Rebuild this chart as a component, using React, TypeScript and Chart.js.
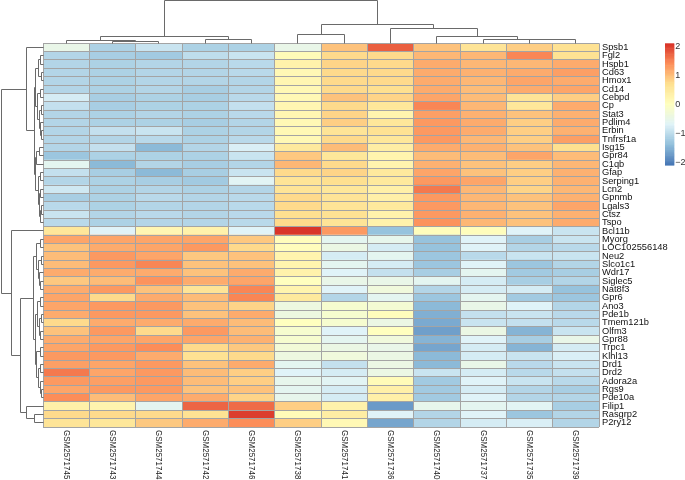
import React, { useEffect, useRef } from "react";
import { Chart, registerables } from "chart.js";

Chart.register(...registerables);

const genes = [
  "Spsb1", "Fgl2", "Hspb1", "Cd63", "Hmox1", "Cd14", "Cebpd", "Cp", "Stat3", "Pdlim4",
  "Erbin", "Tnfrsf1a", "Isg15", "Gpr84", "C1qb", "Gfap", "Serping1", "Lcn2", "Gpnmb", "Lgals3",
  "Ctsz", "Tspo", "Bcl11b", "Myorg", "LOC102556148", "Neu2", "Slco1c1", "Wdr17", "Siglec5", "Nat8f3",
  "Gpr6", "Ano3", "Pde1b", "Tmem121b", "Olfm3", "Gpr88", "Trpc1", "Klhl13", "Drd1", "Drd2",
  "Adora2a", "Rgs9", "Pde10a", "Filip1", "Rasgrp2", "P2ry12",
];

const samples = [
  "GSM2571745", "GSM2571743", "GSM2571744", "GSM2571742", "GSM2571746", "GSM2571738",
  "GSM2571741", "GSM2571736", "GSM2571740", "GSM2571737", "GSM2571735", "GSM2571739",
];

// row-scaled expression values, one array per sample (rows in gene order)
const GSM2571745 = [-0.5, -1.1, -1.1, -1.1, -1.1, -1.1, -0.8, -0.95, -1.1, -1.1, -1.1, -1.1, -1.1, -1.3, -0.6, -0.95, -1.1, -0.85, -1.2, -1.05, -0.9, -1.05, 0.55, 1.2, 0.95, 1.0, 1.0, 1.15, 0.9, 1.15, 1.2, 1.2, 1.15, 0.75, 0.95, 1.15, 1.2, 1.3, 1.25, 1.55, 1.3, 1.2, 1.4, 0.35, 0.75, 0.6];
const GSM2571743 = [-1.15, -1.2, -1.15, -1.15, -1.15, -1.15, -1.2, -1.2, -1.15, -1.15, -0.95, -1.1, -0.95, -1.15, -1.45, -1.2, -1.15, -1.15, -1.15, -1.15, -1.1, -1.15, -0.7, 1.2, 1.15, 1.3, 1.3, 1.15, 1.0, 1.3, 0.75, 1.3, 1.3, 1.15, 1.3, 1.2, 1.3, 1.3, 1.2, 1.2, 1.25, 1.3, 1.0, 0.25, 0.75, 0.55];
const GSM2571744 = [-0.9, -1.25, -1.1, -1.1, -1.1, -1.1, -1.15, -1.15, -1.1, -1.15, -0.9, -1.05, -1.45, -1.15, -1.1, -1.45, -1.2, -1.1, -1.05, -1.1, -1.05, -1.1, 0.2, 1.2, 1.2, 1.2, 1.45, 1.15, 1.35, 0.95, 1.15, 1.3, 1.3, 1.15, 0.75, 1.2, 1.4, 1.15, 1.3, 1.3, 1.3, 1.3, 1.2, -0.6, 0.75, 0.9];
const GSM2571742 = [-1.15, -1.0, -1.1, -1.1, -1.1, -1.2, -1.2, -1.15, -1.15, -1.2, -1.15, -1.15, -1.1, -1.15, -1.2, -1.2, -1.25, -1.15, -1.1, -1.1, -1.1, -1.1, 0.3, 1.2, 1.3, 0.9, 0.95, 0.95, 1.15, 0.6, 1.0, 0.95, 0.95, 1.15, 1.3, 1.2, 0.75, 0.65, 0.95, 1.0, 1.0, 0.95, 1.15, 1.7, 0.65, 1.15];
const GSM2571746 = [-1.15, -0.9, -1.05, -1.05, -1.1, -1.1, -1.05, -0.95, -1.05, -1.1, -1.1, -1.05, -0.75, -0.9, -1.1, -0.9, -0.65, -1.1, -1.05, -1.05, -1.05, -1.05, -0.7, 0.9, 0.75, 0.95, 0.95, 1.15, 1.2, 1.45, 1.45, 0.8, 1.15, 1.0, 1.0, 1.1, 0.9, 0.75, 1.15, 0.85, 0.85, 0.95, 0.8, 1.65, 2.0, 1.4];
const GSM2571738 = [-0.5, 0.1, 0.3, 0.15, 0.2, 0.15, 0.15, 0.2, 0.2, 0.15, 0.15, 0.15, 0.5, 0.9, 1.05, 0.75, 0.6, 0.6, 0.75, 0.75, 0.7, 0.75, 2.06, 0.05, 0.05, 0.25, 0.25, 0.3, 0.0, 0.25, 0.5, -0.4, -0.4, 0.0, -0.2, -0.2, -0.3, -0.4, -0.6, -0.7, -0.55, -0.6, -0.55, 0.85, 0.1, 0.85];
const GSM2571741 = [0.95, 0.75, 0.8, 0.75, 0.75, 0.75, 0.95, 0.75, 0.8, 0.85, 0.6, 0.75, 1.0, 0.55, 0.75, 0.8, 0.7, 0.55, 0.6, 0.6, 0.65, 0.6, 1.3, -0.6, -0.45, -0.8, -0.6, -0.7, -0.5, -0.7, -1.1, -0.2, -0.2, -0.2, -0.7, -0.6, -0.45, -0.35, -0.95, -0.8, -0.65, -0.8, -0.8, 0.3, 0.4, 0.15];
const GSM2571736 = [1.75, 0.75, 0.75, 0.75, 0.75, 0.7, 0.8, 0.55, 0.25, 0.55, 0.65, 0.55, 0.4, 0.25, 0.25, 0.5, 0.5, 0.35, 0.35, 0.5, 0.3, 0.3, -1.35, -0.55, -0.8, -0.6, -0.8, -0.95, -0.5, -0.35, -0.6, -0.25, 0.05, -0.45, 0.0, -0.35, -0.5, -0.45, -0.45, -0.45, 0.1, 0.35, 0.35, -1.75, -0.7, -1.65];
const GSM2571740 = [0.95, 1.05, 1.15, 1.15, 1.15, 1.15, 1.2, 1.45, 1.25, 1.3, 1.3, 1.3, 1.15, 1.0, 1.1, 1.2, 1.3, 1.55, 1.3, 1.3, 1.3, 1.35, 0.05, -1.35, -1.35, -1.3, -1.3, -1.2, -0.6, -1.1, -1.3, -1.45, -1.55, -1.6, -1.7, -1.5, -1.65, -1.45, -1.45, -0.9, -1.25, -1.25, -1.25, -0.55, -1.1, -1.1];
const GSM2571737 = [0.6, 1.05, 1.05, 1.1, 1.05, 1.0, 1.0, 1.05, 1.1, 1.15, 1.15, 1.05, 1.1, 1.0, 0.95, 0.95, 1.2, 1.05, 1.05, 1.05, 1.1, 1.05, 0.05, -0.7, -0.7, -1.05, -0.7, -0.6, -0.8, -0.8, -0.6, -0.5, -0.95, -0.9, -0.45, -0.7, -0.8, -0.8, -0.5, -0.8, -0.7, -0.8, -0.7, -0.6, -0.7, -0.8];
const GSM2571735 = [0.85, 1.45, 1.05, 1.15, 1.2, 1.15, 0.6, 0.55, 0.95, 0.85, 0.85, 0.85, 0.95, 1.2, 0.85, 0.85, 0.85, 0.8, 0.95, 0.95, 0.95, 0.95, -0.7, -1.2, -1.1, -0.9, -1.3, -1.25, -1.2, -0.8, -1.25, -0.7, -0.9, -0.95, -1.5, -1.2, -1.5, -0.9, -1.05, -1.05, -0.9, -1.1, -1.1, -0.65, -1.3, -0.75];
const GSM2571739 = [0.65, 0.65, 1.15, 1.25, 1.15, 1.2, 0.85, 1.15, 1.1, 1.15, 1.1, 1.25, 0.7, 1.0, 1.05, 1.1, 1.1, 1.05, 1.1, 1.2, 1.1, 1.15, -0.9, -0.9, -1.05, -0.9, -1.1, -1.2, -1.1, -1.35, -1.3, -1.1, -1.05, -1.05, -0.9, -0.5, -0.8, -0.75, -0.9, -0.95, -1.05, -1.2, -1.1, -1.2, -1.1, -1.1];

const sampleValues = [
  GSM2571745, GSM2571743, GSM2571744, GSM2571742, GSM2571746, GSM2571738,
  GSM2571741, GSM2571736, GSM2571740, GSM2571737, GSM2571735, GSM2571739,
];

// colour scale
const colorMin = -2.1;
const colorMax = 2.1;
const palette = ["#4575B4", "#91BFDB", "#E0F3F8", "#FFFFBF", "#FEE090", "#FC8D59", "#D73027"];
const legendTicks = [2, 1, 0, -1, -2];
const legendTickLabels = ["2", "1", "0", "\u22121", "\u22122"];

// dendrograms: [child, child, merge height]; leaves are display indices
type Tree = number | [Tree, Tree, number];

const colTree: Tree = [
  [[0, [1, 2, 2.3], 3], [3, 4, 3.7], 7.3],
  [[5, 6, 8.7], [7, [8, [9, [10, 11, 3.7], 4.3], 6.5], 14.7], 19.3],
  43,
];

const rowTopCluster: Tree = [
  0,
  [
    [
      [[1, 2, 2.5], [3, 4, 2], 4.5],
      [[5, 6, 3], [[7, 8, 2], [9, [10, 11, 1.5], 3], 4], 5.5],
      7.5,
    ],
    [
      [[12, 13, 3.5], 14, 6.5],
      [[15, 16, 2.5], [[17, 18, 3], [[19, 20, 1.5], 21, 2.5], 4], 5],
      8,
    ],
    8.5,
  ],
  16.3,
];

const rowBottomCluster: Tree = [
  22,
  [
    [
      [[23, 24, 2.5], [[25, 26, 2], [27, [28, 29, 3], 3.5], 4.5], 7],
      [
        [[30, 31, 2.5], [[32, 33, 2], [34, 35, 3], 4], 6],
        [[36, 37, 3], [[38, 39, 2.5], [40, [41, 42, 1.5], 3], 4.5], 6.5],
        8,
      ],
      9.7,
    ],
    [43, [44, 45, 8.7], 16.3],
    22.3,
  ],
  31.3,
];

const rowTree: Tree = [rowTopCluster, rowBottomCluster, 42];
const colTreeMax = 43;
const rowTreeMax = 42;

function hexToRgb(h: string) {
  return [parseInt(h.slice(1, 3), 16), parseInt(h.slice(3, 5), 16), parseInt(h.slice(5, 7), 16)];
}
const paletteRgb = palette.map(hexToRgb);

function colorFor(v: number) {
  let t = (v - colorMin) / (colorMax - colorMin);
  t = Math.max(0, Math.min(1, t));
  const seg = t * (paletteRgb.length - 1);
  const i = Math.min(Math.floor(seg), paletteRgb.length - 2);
  const f = seg - i;
  const a = paletteRgb[i];
  const b = paletteRgb[i + 1];
  const c = a.map((x, k) => Math.round(x + (b[k] - x) * f));
  return `rgb(${c[0]},${c[1]},${c[2]})`;
}

const snap = (p: number) => Math.round(p - 0.5) + 0.5;

function drawTree(
  ctx: CanvasRenderingContext2D,
  node: Tree,
  posOf: (leaf: number) => number,
  hToPix: (h: number) => number,
  vertical: boolean
): { pos: number; h: number } {
  if (typeof node === "number") return { pos: posOf(node), h: 0 };
  const a = drawTree(ctx, node[0], posOf, hToPix, vertical);
  const b = drawTree(ctx, node[1], posOf, hToPix, vertical);
  const h = node[2];
  const hp = snap(hToPix(h));
  ctx.beginPath();
  if (vertical) {
    for (const c of [a, b]) {
      const x = snap(c.pos);
      ctx.moveTo(x, snap(hToPix(c.h)));
      ctx.lineTo(x, hp);
    }
    ctx.moveTo(snap(a.pos), hp);
    ctx.lineTo(snap(b.pos), hp);
  } else {
    for (const c of [a, b]) {
      const y = snap(c.pos);
      ctx.moveTo(snap(hToPix(c.h)), y);
      ctx.lineTo(hp, y);
    }
    ctx.moveTo(hp, snap(a.pos));
    ctx.lineTo(hp, snap(b.pos));
  }
  ctx.stroke();
  return { pos: (a.pos + b.pos) / 2, h };
}

const labelFont = '"Liberation Sans", Arial, Helvetica, sans-serif';

const heatmapExtras = {
  id: "heatmapExtras",
  afterDatasetsDraw(chart: any) {
    const { ctx, chartArea, scales } = chart;
    const xs = scales.x;
    const ys = scales.y;
    ctx.save();
    ctx.strokeStyle = "#a4a4a4";
    ctx.lineWidth = 1;
    ctx.beginPath();
    for (let c = 0; c <= samples.length; c++) {
      const x = snap(xs.getPixelForValue(c));
      ctx.moveTo(x, chartArea.top);
      ctx.lineTo(x, chartArea.bottom);
    }
    for (let r = 0; r <= genes.length; r++) {
      const y = snap(ys.getPixelForValue(r - 0.5));
      ctx.moveTo(chartArea.left, y);
      ctx.lineTo(chartArea.right, y);
    }
    ctx.stroke();
    ctx.restore();
  },
  afterDraw(chart: any) {
    const { ctx, chartArea, scales } = chart;
    const xs = scales.x;
    const ys = scales.y;
    ctx.save();

    // dendrograms
    ctx.strokeStyle = "#6a6a6a";
    ctx.lineWidth = 1;
    const colPos = (leaf: number) => xs.getPixelForValue(leaf + 0.5);
    const colH = (h: number) => chartArea.top - (h / colTreeMax) * (chartArea.top - 0.5);
    drawTree(ctx, colTree, colPos, colH, true);
    const rowPos = (leaf: number) => ys.getPixelForValue(leaf);
    const rowH = (h: number) => chartArea.left - (h / rowTreeMax) * (chartArea.left - 1);
    drawTree(ctx, rowTree, rowPos, rowH, false);

    // column labels, rotated clockwise
    ctx.fillStyle = "#222";
    ctx.font = `9.3px ${labelFont}`;
    ctx.textAlign = "left";
    ctx.textBaseline = "middle";
    samples.forEach((s, c) => {
      const x = xs.getPixelForValue(c + 0.5);
      ctx.save();
      ctx.translate(x, chartArea.bottom + 3);
      ctx.rotate(Math.PI / 2);
      ctx.scale(0.86, 1);
      ctx.fillText(s, 0, 0);
      ctx.restore();
    });

    // colour legend
    const lx = chart.width - 20;
    const lw = 9.3;
    const lt = chartArea.top;
    const lb = chartArea.top + 121.7;
    const steps = 100;
    const sh = (lb - lt) / steps;
    for (let i = 0; i < steps; i++) {
      const v = colorMax - (i + 0.5) * ((colorMax - colorMin) / steps);
      ctx.fillStyle = colorFor(v);
      ctx.fillRect(lx, lt + i * sh, lw, sh + 0.6);
    }
    ctx.fillStyle = "#333";
    ctx.font = `9px ${labelFont}`;
    ctx.textAlign = "left";
    ctx.textBaseline = "middle";
    legendTicks.forEach((v, i) => {
      const y = lt + ((colorMax - v) / (colorMax - colorMin)) * (lb - lt);
      ctx.fillText(legendTickLabels[i], lx + lw + 1, y);
    });
    ctx.restore();
  },
};

export default function App() {
  const canvasRef = useRef<HTMLCanvasElement | null>(null);

  useEffect(() => {
    if (!canvasRef.current) return;
    const datasets = samples.map((s, c) => ({
      label: s,
      data: genes.map(() => [c, c + 1]),
      backgroundColor: sampleValues[c].map(colorFor),
      borderWidth: 0,
      grouped: false,
      barPercentage: 1,
      categoryPercentage: 1,
    }));
    const chart = new Chart(canvasRef.current, {
      type: "bar",
      data: { labels: genes, datasets: datasets as any },
      options: {
        indexAxis: "y",
        animation: false,
        responsive: true,
        maintainAspectRatio: false,
        layout: { padding: { left: 43, top: 43.3, right: 0, bottom: 53 } },
        plugins: { legend: { display: false }, tooltip: { enabled: false } },
        scales: {
          x: { type: "linear", min: 0, max: samples.length, display: false },
          y: {
            type: "category",
            position: "right",
            offset: true,
            grid: { display: false, drawTicks: false },
            border: { display: false },
            ticks: {
              autoSkip: false,
              padding: 3,
              color: "#111",
              font: { size: 9.3, family: labelFont },
            },
            afterFit: (scale: any) => {
              scale.width = 86;
            },
          },
        },
      } as any,
      plugins: [heatmapExtras],
    });
    return () => chart.destroy();
  }, []);

  return (
    <div style={{ position: "absolute", left: 0, top: 0, width: 685, height: 480, background: "#fff" }}>
      <canvas ref={canvasRef} />
    </div>
  );
}
